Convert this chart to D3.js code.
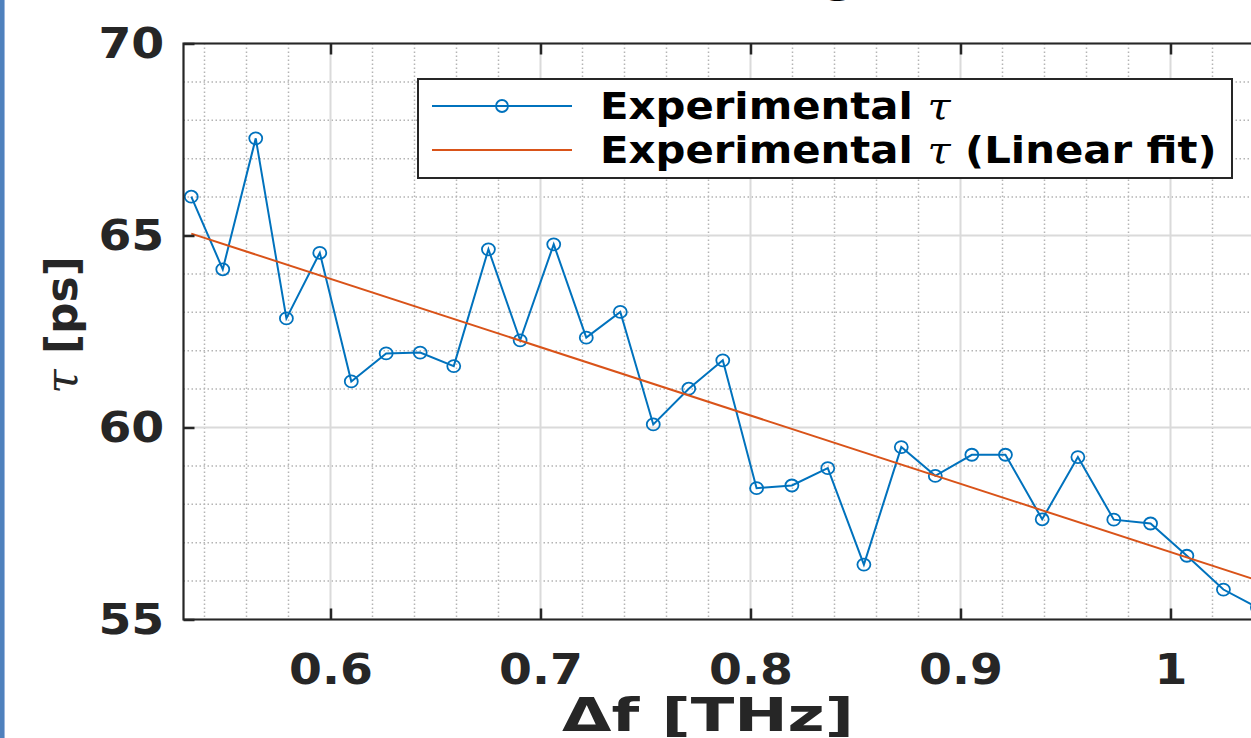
<!DOCTYPE html>
<html>
<head>
<meta charset="utf-8">
<script src="https://cdn.jsdelivr.net/npm/d3@7"></script>
<style>
  html, body { margin: 0; padding: 0; background: #fff; }
  svg { display: block; }
</style>
</head>
<body>
<svg id="chart" width="1251" height="738"></svg>
<script>
// ---- data ----
const freqTHz = [0.5337, 0.5487, 0.5644, 0.5790, 0.5949, 0.6099, 0.6265, 0.6427, 0.6587, 0.6752,
                 0.6903, 0.7063, 0.7218, 0.7380, 0.7537, 0.7706, 0.7868, 0.8029, 0.8197, 0.8368,
                 0.8540, 0.8718, 0.8880, 0.9054, 0.9214, 0.9389, 0.9559, 0.9730, 0.9905, 1.0078,
                 1.0252, 1.0414];
const tauPs = [66.01, 64.12, 67.53, 62.84, 64.55, 61.20, 61.93, 61.95, 61.60, 64.64,
               62.27, 64.77, 62.34, 63.01, 60.08, 61.01, 61.75, 58.42, 58.49, 58.94,
               56.43, 59.49, 58.74, 59.29, 59.29, 57.61, 59.23, 57.60, 57.50, 56.66,
               55.78, 55.31];
const fitX = [0.5337, 1.0414];
const fitY = [65.05, 56.02];
const xTicks = [0.6, 0.7, 0.8, 0.9, 1];
const yTicks = [55, 60, 65, 70];
const seriesNames = ["Experimental ", "Experimental "];
const seriesSuffix = ["", " (Linear fit)"];
const xLabel = "Δf [THz]";
const yLabel = "[ps]";

// ---- layout ----
const svg = d3.select("#chart");
const L = 183.5, T = 43.5, B = 619.5;
const x = d3.scaleLinear().domain([0.53, 1.05]).range([L, L + 0.52 * 2100]);
const y = d3.scaleLinear().domain([55, 70]).range([B, T]);
const R = x.range()[1];
const FONT = "'DejaVu Sans', sans-serif";
const INK = "#262626";
const BLUE = "#0072BD", ORANGE = "#D95319";
const SX = 1.1; // horizontal stretch of the reference's lettering

// left blue strip
svg.append("rect").attr("x", 0).attr("y", 0).attr("width", 4).attr("height", 738).attr("fill", "#4F81BD");
svg.append("rect").attr("x", 4).attr("y", 0).attr("width", 1).attr("height", 738).attr("fill", "#9DB7DD");

// title fragment (cropped at top edge)
svg.append("text").attr("x", 840).attr("y", -9).attr("text-anchor", "middle")
  .attr("font-family", FONT).attr("font-weight", "bold").attr("font-size", 48)
  .attr("fill", "#000").text("g");

// plot background
svg.append("rect").attr("x", L).attr("y", T).attr("width", R - L).attr("height", B - T).attr("fill", "#fff");

// grid
const grid = svg.append("g");
const xMinor = d3.range(0.54, 1.05, 0.02).filter(v => !xTicks.some(t => Math.abs(t - v) < 1e-6));
const yMinor = d3.range(56, 70, 1).filter(v => !yTicks.includes(v));
grid.selectAll(".xm").data(xMinor).join("line")
  .attr("x1", d => x(d)).attr("x2", d => x(d)).attr("y1", T).attr("y2", B)
  .attr("stroke", "#b4b4b4").attr("stroke-width", 1.5).attr("stroke-dasharray", "1.5,2.5");
grid.selectAll(".ym").data(yMinor).join("line")
  .attr("x1", L).attr("x2", R).attr("y1", d => y(d)).attr("y2", d => y(d))
  .attr("stroke", "#b4b4b4").attr("stroke-width", 1.5).attr("stroke-dasharray", "1.5,2.5");
grid.selectAll(".xM").data(xTicks).join("line")
  .attr("x1", d => x(d)).attr("x2", d => x(d)).attr("y1", T).attr("y2", B)
  .attr("stroke", "#dadada").attr("stroke-width", 2);
grid.selectAll(".yM").data(yTicks).join("line")
  .attr("x1", L).attr("x2", R).attr("y1", d => y(d)).attr("y2", d => y(d))
  .attr("stroke", "#dadada").attr("stroke-width", 2);

// series
const pts = freqTHz.map((f, i) => [f, tauPs[i]]);
svg.append("path").datum(pts)
  .attr("d", d3.line().x(d => x(d[0])).y(d => y(d[1])))
  .attr("fill", "none").attr("stroke", BLUE).attr("stroke-width", 2);
svg.selectAll(".mk").data(pts).join("ellipse")
  .attr("cx", d => x(d[0])).attr("cy", d => y(d[1])).attr("rx", 6.5).attr("ry", 6)
  .attr("fill", "none").attr("stroke", BLUE).attr("stroke-width", 1.8);
const fitPts = fitX.map((f, i) => [f, fitY[i]]);
svg.append("path").datum(fitPts)
  .attr("d", d3.line().x(d => x(d[0])).y(d => y(d[1])))
  .attr("fill", "none").attr("stroke", ORANGE).attr("stroke-width", 2);

// axes
const fmt = d3.format("~g");
function styleAxis(g) {
  g.select(".domain").remove();
  g.selectAll(".tick line").attr("stroke", INK).attr("stroke-width", 2.5);
  g.selectAll(".tick text").attr("fill", INK).attr("font-family", FONT)
    .attr("font-weight", "bold").attr("font-size", 43)
    .attr("transform", `scale(${SX},1)`);
}
svg.append("g").attr("transform", `translate(0,${B})`)
  .call(d3.axisBottom(x).tickValues(xTicks).tickFormat(fmt).tickSizeInner(-11).tickSizeOuter(0).tickPadding(34))
  .call(styleAxis);
svg.append("g").attr("transform", `translate(0,${T})`)
  .call(d3.axisTop(x).tickValues(xTicks).tickFormat("").tickSizeInner(-11).tickSizeOuter(0))
  .call(styleAxis);
svg.append("g").attr("transform", `translate(${L},0)`)
  .call(d3.axisLeft(y).tickValues(yTicks).tickFormat(fmt).tickSizeInner(-11).tickSizeOuter(0).tickPadding(17.5))
  .call(styleAxis);

// axes box
svg.append("path")
  .attr("d", `M${R},${T}H${L}V${B}H${R}`)
  .attr("fill", "none").attr("stroke", INK).attr("stroke-width", 2.2);

// axis labels
const xl = svg.append("g").attr("transform", "translate(708,731)");
const xlt = xl.append("text").attr("text-anchor", "middle")
  .attr("font-family", FONT).attr("font-weight", "bold").attr("font-size", 46).attr("fill", INK)
  .text(xLabel);
const xw = xlt.node().getComputedTextLength();
xlt.attr("transform", `scale(${292 / xw},1)`);

const yl = svg.append("text").attr("transform", "translate(77,325) rotate(-90)").attr("text-anchor", "middle")
  .attr("font-family", FONT).attr("font-weight", "bold").attr("font-size", 44).attr("fill", INK);
yl.append("tspan").attr("font-family", "'DejaVu Serif', serif").attr("font-style", "italic").attr("font-weight", "normal").text("τ");
yl.append("tspan").text(" " + yLabel);

// legend
const lg = svg.append("g");
lg.append("rect").attr("x", 418).attr("y", 79).attr("width", 814).attr("height", 99)
  .attr("fill", "#fff").attr("stroke", INK).attr("stroke-width", 2);
const rowsY = [106, 150];
const colors = [BLUE, ORANGE];
rowsY.forEach((ry, i) => {
  lg.append("line").attr("x1", 432).attr("x2", 572).attr("y1", ry).attr("y2", ry)
    .attr("stroke", colors[i]).attr("stroke-width", 2);
  if (i === 0) lg.append("ellipse").attr("cx", 502).attr("cy", ry).attr("rx", 6).attr("ry", 6)
    .attr("fill", "none").attr("stroke", BLUE).attr("stroke-width", 1.8);
  const t = lg.append("g").attr("transform", `translate(600,${ry + 13}) scale(${SX},1)`)
    .append("text").attr("x", 0).attr("y", 0)
    .attr("font-family", FONT).attr("font-weight", "bold").attr("font-size", 38).attr("fill", "#000");
  t.append("tspan").text(seriesNames[i]);
  t.append("tspan").attr("font-family", "'DejaVu Serif', serif").attr("font-style", "italic").attr("font-weight", "normal").text("τ");
  t.append("tspan").text(seriesSuffix[i]);
});
</script>
</body>
</html>
